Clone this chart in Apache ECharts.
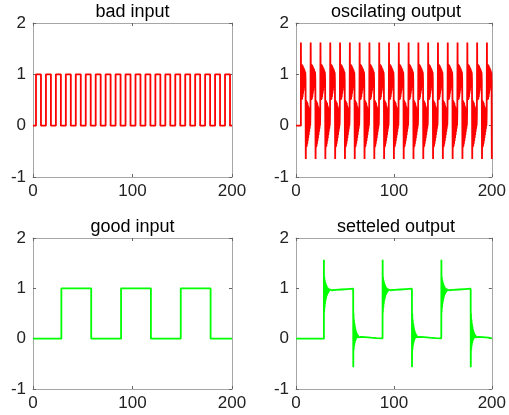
<!DOCTYPE html>
<html>
<head>
<meta charset="utf-8">
<script src="https://cdn.jsdelivr.net/npm/echarts@6/dist/echarts.min.js"></script>
<style>
html, body { margin: 0; padding: 0; background: #fff; }
#main { width: 509px; height: 415px; }
</style>
</head>
<body>
<div id="main"></div>
<script>
// ticks / titles
const xTicks = [0, 100, 200];
const yTicks = [-1, 0, 1, 2];
const titles = ['bad input', 'oscilating output', 'good input', 'setteled output'];

// bad input: rising / falling edges
const badRise = [3, 13, 23, 33, 43, 53, 63, 73, 83, 93, 103, 113, 123, 133, 143, 153, 163, 173, 183, 193];
const badFall = [8, 18, 28, 38, 48, 58, 68, 78, 88, 98, 108, 118, 128, 138, 148, 158, 168, 178, 188, 198];

// oscillating output: samples after each edge (every 0.25), read from one cycle
const oscDt = 0.25;
const oscLag = 2;
const oscUp = [1.62, 0.5, 1.2, 0.5, 1.19, 0.52, 1.18, 0.56, 1.16, 0.62, 1.14, 0.68, 1.12, 0.74, 1.1, 0.78, 1.07, 0.82, 1.04, 0.88];
const oscDown = [-0.65, 0.5, -0.42, 0.48, -0.4, 0.46, -0.35, 0.44, -0.3, 0.4, -0.24, 0.37, -0.18, 0.34, -0.12, 0.31, -0.06, 0.28, 0.0, 0.24];

// good input edges
const goodRise = [28.5, 88.5, 148.5];
const goodFall = [58.5, 118.5, 178.5];

// setteled output: response after an up / down edge (every 0.25), then slow tail [dt, y]
const setDt = 0.25;
const setUp = [1.57, 0.52, 1.22, 0.62, 1.16, 0.7, 1.12, 0.76, 1.09, 0.8, 1.06, 0.84, 1.04, 0.87, 1.02, 0.89, 1.01, 0.91, 1.0, 0.925, 0.99, 0.935, 0.98, 0.945, 0.975, 0.95, 0.97, 0.955];
const setUpTail = [[8, 0.962], [12, 0.968], [18, 0.977], [24, 0.986], [29.9, 0.993]];
const setDown = [-0.57, 0.5, -0.22, 0.38, -0.14, 0.3, -0.09, 0.24, -0.05, 0.19, -0.02, 0.15, 0.0, 0.12, 0.01, 0.1, 0.015, 0.08, 0.02, 0.07, 0.025, 0.06, 0.028, 0.05, 0.03, 0.045, 0.032, 0.04];
const setDownTail = [[8, 0.036], [12, 0.03], [18, 0.02], [24, 0.012], [29.9, 0.006]];

const font = "'Liberation Sans', Arial, Helvetica, sans-serif";
const red = '#ff0000';
const green = '#00ff00';
const frame = '#a6a6a6';

function squareWave(rise, fall) {
  let pts = [[0, 0]];
  for (let i = 0; i < rise.length; i++) {
    pts.push([rise[i], 0], [rise[i], 1], [fall[i], 1], [fall[i], 0]);
  }
  pts.push([200, 0]);
  return pts;
}

function oscData() {
  let pts = [[0, 0], [badRise[0] + oscLag, 0]];
  for (let k = 0; k < badRise.length; k++) {
    let t0 = badRise[k] + oscLag;
    oscUp.forEach((v, i) => pts.push([t0 + i * oscDt, v]));
    let t1 = badFall[k] + oscLag;
    oscDown.forEach((v, i) => pts.push([t1 + i * oscDt, v]));
  }
  return pts.filter(p => p[0] <= 200);
}

function settledData() {
  let pts = [[0, 0]];
  let last = 0;
  function edge(t, samples, tail) {
    pts.push([t, last]);
    samples.forEach((v, i) => pts.push([t + i * setDt, v]));
    tail.forEach(p => pts.push([t + p[0], p[1]]));
    last = tail[tail.length - 1][1];
  }
  for (let k = 0; k < goodRise.length; k++) {
    edge(goodRise[k], setUp, setUpTail);
    edge(goodFall[k], setDown, setDownTail);
  }
  pts.push([200, last]);
  return pts.filter(p => p[0] <= 200);
}

const grids = [
  { left: 33, top: 23, width: 199, height: 154 },
  { left: 296, top: 23, width: 200, height: 154 },
  { left: 33, top: 238, width: 199, height: 151 },
  { left: 296, top: 238, width: 200, height: 151 }
];

const seriesData = [
  { data: squareWave(badRise, badFall), color: red },
  { data: oscData(), color: red },
  { data: squareWave(goodRise, goodFall), color: green },
  { data: settledData(), color: green }
];

let xAxis = [], yAxis = [], series = [], graphic = [];
grids.forEach((g, i) => {
  const tick = { show: true, inside: true, length: 3, lineStyle: { color: '#666' } };
  const line = { show: true, onZero: false, lineStyle: { color: frame, width: 1 } };
  const label = { color: '#222', fontSize: 17, fontFamily: font };
  xAxis.push(
    { gridIndex: i, type: 'value', min: xTicks[0], max: xTicks[2], interval: xTicks[1] - xTicks[0],
      axisLine: line, axisTick: tick, splitLine: { show: false },
      axisLabel: Object.assign({ margin: 6 }, label) },
    { gridIndex: i, type: 'value', position: 'top', min: xTicks[0], max: xTicks[2], interval: xTicks[1] - xTicks[0],
      axisLine: line, axisTick: tick, splitLine: { show: false }, axisLabel: { show: false } }
  );
  yAxis.push(
    { gridIndex: i, type: 'value', min: yTicks[0], max: yTicks[3], interval: 1,
      axisLine: line, axisTick: tick, splitLine: { show: false },
      axisLabel: Object.assign({ margin: 7 }, label) },
    { gridIndex: i, type: 'value', position: 'right', min: yTicks[0], max: yTicks[3], interval: 1,
      axisLine: line, axisTick: tick, splitLine: { show: false }, axisLabel: { show: false } }
  );
  series.push({
    type: 'line', xAxisIndex: 2 * i, yAxisIndex: 2 * i,
    data: seriesData[i].data, showSymbol: false, symbol: 'none',
    lineStyle: { color: seriesData[i].color, width: 1.8 },
    animation: false
  });
  graphic.push({
    type: 'text', x: g.left + g.width / 2, y: g.top - 11,
    style: { text: titles[i], fill: '#000', font: '18px ' + font, align: 'center', verticalAlign: 'middle' }
  });
});

const myChart = echarts.init(document.getElementById('main'));
myChart.setOption({
  backgroundColor: '#fff',
  animation: false,
  grid: grids,
  xAxis: xAxis,
  yAxis: yAxis,
  series: series,
  graphic: graphic
});
</script>
</body>
</html>
